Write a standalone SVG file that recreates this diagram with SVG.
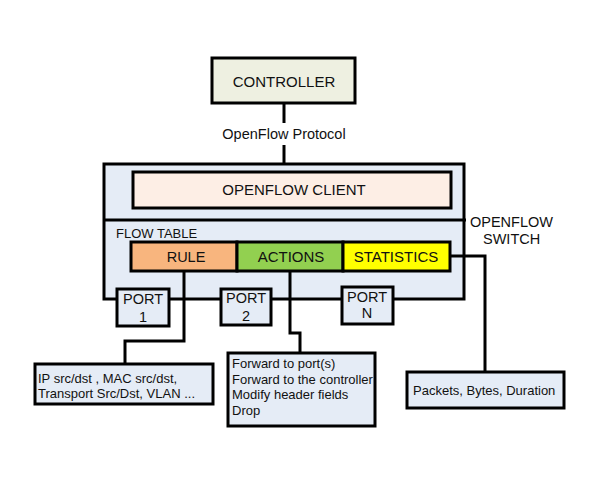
<svg xmlns="http://www.w3.org/2000/svg" width="598" height="484" viewBox="0 0 598 484">
<style>
text{font-family:"Liberation Sans",Arial,sans-serif;fill:#111}
.b{stroke:#000;stroke-width:3}
.w{fill:none;stroke:#000;stroke-width:3}
.c{text-anchor:middle}
.s{font-size:13px}
.m{font-size:14.5px}
.l{font-size:15px}
</style>
<rect width="598" height="484" fill="#fff"/>
<g id="switch">
<rect class="b" x="104" y="164" width="360" height="135" fill="#e5ecf6"/>
<line class="w" x1="104" y1="220" x2="466" y2="220"/>
<text class="m" x="470" y="227">OPENFLOW</text>
<text class="m" x="483" y="244">SWITCH</text>
</g>
<g id="controller">
<rect class="b" x="212" y="58" width="143" height="45" fill="#eef0e1"/>
<text class="l c" x="284" y="87">CONTROLLER</text>
</g>
<g id="client">
<rect class="b" x="133" y="172" width="318" height="36" fill="#fdeee5"/>
<text class="l c" x="294" y="195">OPENFLOW CLIENT</text>
</g>
<text class="s" x="116" y="238">FLOW TABLE</text>
<g id="connectors">
<line class="w" x1="284" y1="103" x2="284" y2="123"/>
<line class="w" x1="284" y1="145" x2="284" y2="164"/>
<polyline class="w" points="184,271 184,341 125,341 125,363"/>
<polyline class="w" points="290,271 290,333 300,333 300,353"/>
<polyline class="w" points="450,256 485,256 485,372"/>
</g>
<text class="m c" x="284" y="138.5">OpenFlow Protocol</text>
<g id="rule">
<rect class="b" x="131" y="242" width="106" height="29" fill="#f8b57e"/>
<text class="m c" x="186" y="262">RULE</text>
</g>
<g id="actions">
<rect class="b" x="237" y="242" width="106" height="29" fill="#92d050"/>
<text class="l c" x="291" y="262">ACTIONS</text>
</g>
<g id="statistics">
<rect class="b" x="343" y="242" width="107" height="29" fill="#ffff00"/>
<text class="l c" x="396" y="262">STATISTICS</text>
</g>
<g id="port1">
<rect class="b" x="117" y="289" width="52" height="37" fill="#e5ecf6"/>
<text class="m c" x="143" y="304">PORT</text>
<text class="m c" x="143" y="322">1</text>
</g>
<g id="port2">
<rect class="b" x="221" y="289" width="50" height="36" fill="#e5ecf6"/>
<text class="m c" x="246" y="303">PORT</text>
<text class="m c" x="246" y="321">2</text>
</g>
<g id="portN">
<rect class="b" x="342" y="287" width="51" height="37" fill="#e5ecf6"/>
<text class="m c" x="367" y="302">PORT</text>
<text class="m c" x="367" y="318">N</text>
</g>
<g id="rulebox">
<rect class="b" x="35" y="364" width="178" height="40" fill="#e5ecf6"/>
<text class="s" x="38" y="383">IP src/dst , MAC src/dst,</text>
<text class="s" x="38" y="398">Transport Src/Dst, VLAN ...</text>
</g>
<g id="actionbox">
<rect class="b" x="228" y="353" width="147" height="73" fill="#e5ecf6"/>
<text class="s" x="232" y="368">Forward to port(s)</text>
<text class="s" x="232" y="383.5">Forward to the controller</text>
<text class="s" x="232" y="399">Modify header fields</text>
<text class="s" x="232" y="414.5">Drop</text>
</g>
<g id="statsbox">
<rect class="b" x="407" y="372" width="157" height="36" fill="#e5ecf6"/>
<text class="s" x="413" y="395">Packets, Bytes, Duration</text>
</g>
</svg>
